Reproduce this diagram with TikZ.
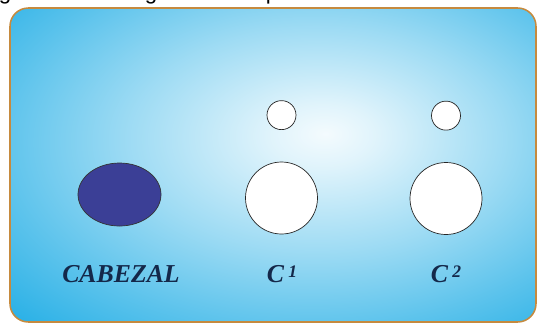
\documentclass[tikz,border=0pt]{standalone}
\usepackage{fontspec}
\setsansfont{Liberation Sans}
\newfontfamily\rotulofont{Liberation Serif}
\usetikzlibrary{shapes.geometric, positioning}
\definecolor{azulpanel}{HTML}{20ADE5}
\definecolor{bordepanel}{HTML}{C68A3E}
\definecolor{azuloscuro}{HTML}{3B3F96}
\definecolor{tinta}{HTML}{14284A}
\pgfdeclareradialshading{brillo}{\pgfpoint{5bp}{5bp}}{%
  color(0bp)=(white!95!azulpanel); color(5bp)=(white!86!azulpanel);
  color(18bp)=(white!56!azulpanel); color(30bp)=(white!26!azulpanel);
  color(41bp)=(azulpanel); color(100bp)=(azulpanel)}
\newcommand\indice[1]{\,\raisebox{0.2em}{\fontsize{15}{15}\selectfont #1}}
\tikzset{
  panel/.style={draw=bordepanel, line width=1.3pt, rounded corners=0.55cm, shading=brillo},
  perilla/.style={ellipse, draw=black!80, line width=0.6pt, fill=azuloscuro, inner sep=0pt,
                  minimum width=2.49cm, minimum height=1.89cm},
  tecla/.style={circle, draw=black!85, line width=0.6pt, fill=white, inner sep=0pt, minimum size=2.16cm},
  led/.style={circle, draw=black!85, line width=0.6pt, fill=white, inner sep=0pt, minimum size=0.87cm},
  rotulo/.style={font=\rotulofont\fontsize{22}{22}\selectfont\bfseries\itshape, text=tinta, inner sep=0pt},
  corte/.style={font=\sffamily\fontsize{19}{19}\selectfont, inner sep=0pt, anchor=base}
}
\begin{document}
\begin{tikzpicture}[x=0.03cm, y=-0.03cm]
  \useasboundingbox (0,0) rectangle (541,325);
  \clip (0,0) rectangle (541,325);
  % restos del titulo, cortado arriba
  \node (cortea) [corte] at (5,-1) {g};
  \node (corteb) [corte] at (151,-1) {g};
  \node (cortec) [corte] at (272,-1) {p};
  % frente del panel
  \path [panel] (10,8) rectangle (536,322);
  \node (cabezal) [perilla] at (119.5,194.5) {};
  \node (c1grande) [tecla] at (281.5,198) {};
  \node (c1chico) [led, above=0.95cm of c1grande] {};
  \node (c2grande) [tecla] at (446,198.5) {};
  \node (c2chico) [led, above=0.95cm of c2grande] {};
  \node (rcabezal) [rotulo] at (121,274) {CABEZAL};
  \node (rc1) [rotulo] at (282,274) {C\indice{1}};
  \node (rc2) [rotulo] at (446,274) {C\indice{2}};
\end{tikzpicture}
\end{document}
